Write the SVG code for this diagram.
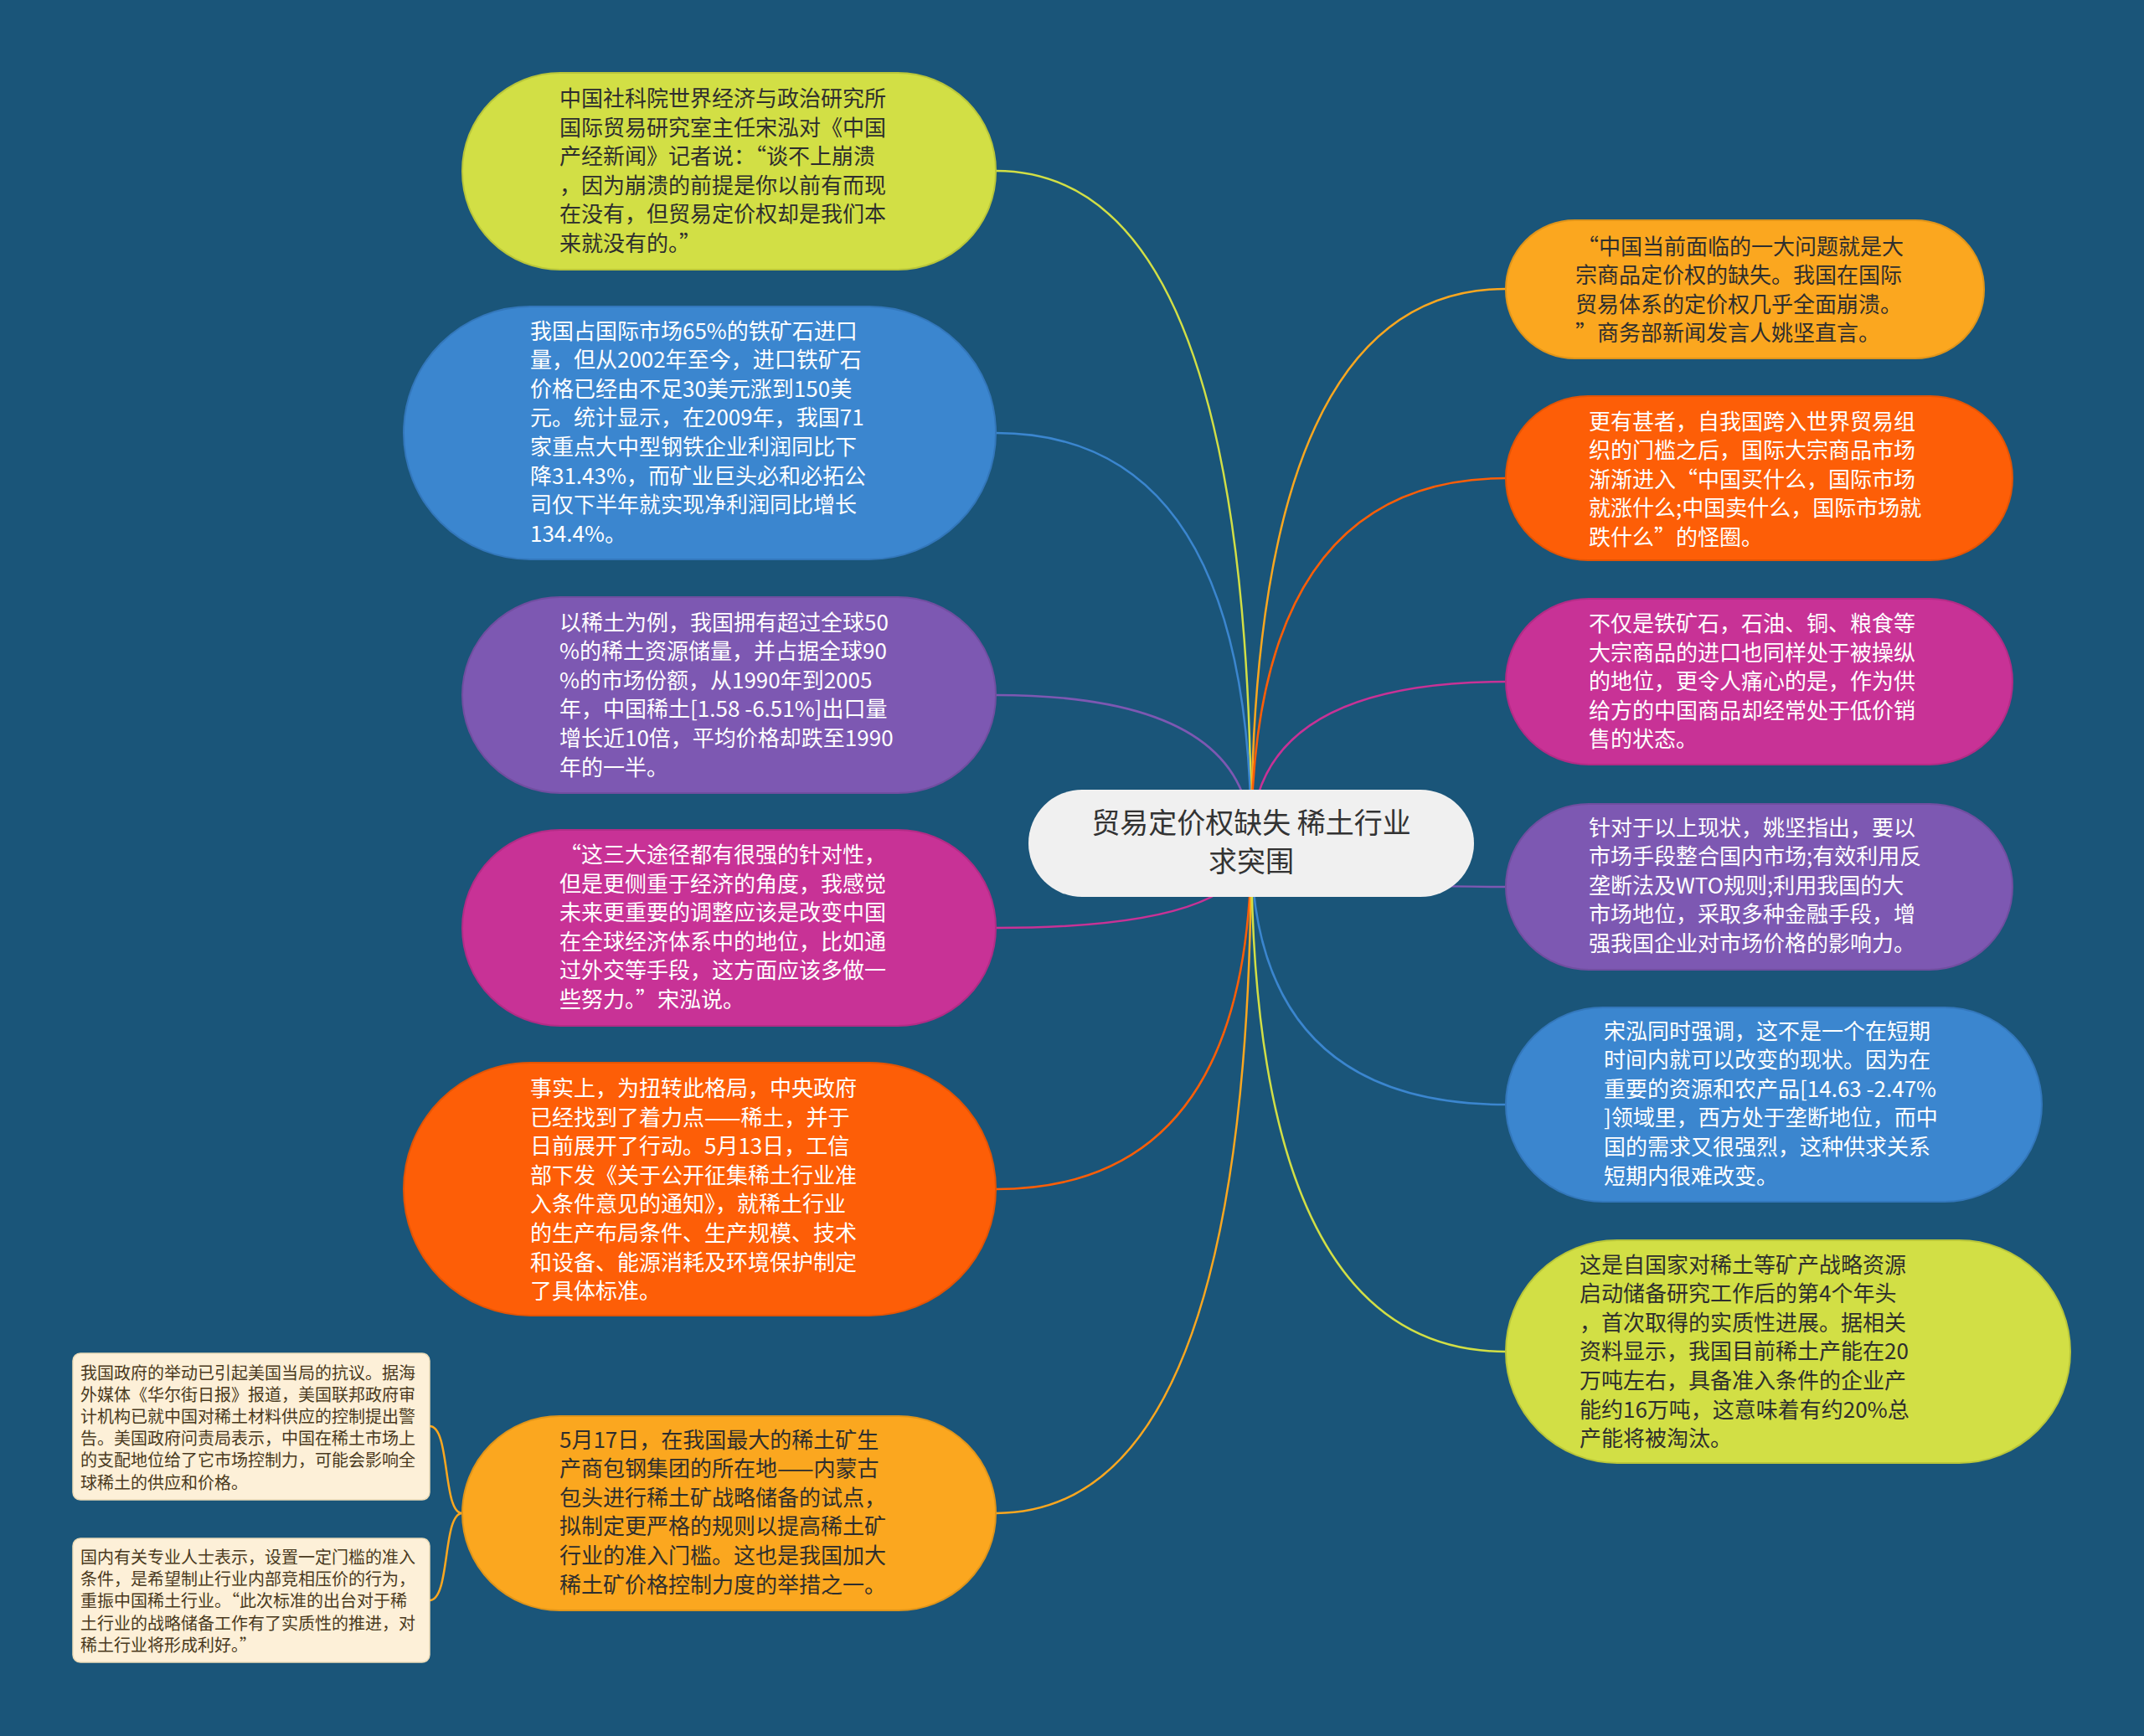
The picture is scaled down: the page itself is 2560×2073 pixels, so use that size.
<svg xmlns="http://www.w3.org/2000/svg" width="2560" height="2073" viewBox="0 0 2560 2073">
<style>
text{font-family:"Noto Sans CJK SC","Noto Sans",sans-serif;font-size:26px}
.dk{fill:#2e2e2e}.wt{fill:#ffffff}
.sub{font-size:20px;fill:#4a3a20}
.ctr{font-size:34px;fill:#333333}
.c{fill:none;stroke-width:2.5}
</style>
<rect width="2560" height="2073" fill="#1a5579"/>
<g id="connectors">
<path class="c" stroke="#d2df45" d="M1494 1007 Q1494 204 1189 204"/>
<path class="c" stroke="#3b86cf" d="M1494 1007 Q1494 517 1189 517"/>
<path class="c" stroke="#7d58b2" d="M1494 1007 Q1494 830 1189 830"/>
<path class="c" stroke="#c83296" d="M1494 1007 Q1494 1108 1189 1108"/>
<path class="c" stroke="#fd5e07" d="M1494 1007 Q1494 1420 1189 1420"/>
<path class="c" stroke="#fba71f" d="M1494 1007 Q1494 1807 1189 1807"/>
<path class="c" stroke="#fba71f" d="M1494 1007 Q1494 345 1798 345"/>
<path class="c" stroke="#fd5e07" d="M1494 1007 Q1494 571 1798 571"/>
<path class="c" stroke="#c83296" d="M1494 1007 Q1494 814 1798 814"/>
<path class="c" stroke="#7d58b2" d="M1494 1007 Q1494 1059 1798 1059"/>
<path class="c" stroke="#3b86cf" d="M1494 1007 Q1494 1319 1798 1319"/>
<path class="c" stroke="#d2df45" d="M1494 1007 Q1494 1614 1798 1614"/>
<path class="c" stroke="#fba71f" d="M552 1807 C528 1807 538 1703 513 1703"/>
<path class="c" stroke="#fba71f" d="M552 1807 C528 1807 538 1911 513 1911"/>
</g>
<g id="center">
<rect x="1228" y="943" width="532" height="128" rx="64" fill="#f0f0f0"/>
<text class="ctr" text-anchor="middle"><tspan x="1494" y="995">贸易定价权缺失 稀土行业</tspan><tspan x="1494" y="1041">求突围</tspan></text>
</g>
<g id="n1">
<rect x="552" y="87" width="637" height="235" rx="117" fill="#d2df45" stroke="#b9c63a" stroke-width="2"/>
<text class="dk"><tspan x="668" y="127">中国社科院世界经济与政治研究所</tspan><tspan x="668" dy="34.6">国际贸易研究室主任宋泓对《中国</tspan><tspan x="668" dy="34.6">产经新闻》记者说：“谈不上崩溃</tspan><tspan x="668" dy="34.6">，因为崩溃的前提是你以前有而现</tspan><tspan x="668" dy="34.6">在没有，但贸易定价权却是我们本</tspan><tspan x="668" dy="34.6">来就没有的。”</tspan></text>
</g>
<g id="n2">
<rect x="482" y="366" width="707" height="302" rx="151" fill="#3b86cf" stroke="#3377bb" stroke-width="2"/>
<text class="wt"><tspan x="633" y="404.5">我国占国际市场65%的铁矿石进口</tspan><tspan x="633" dy="34.6">量，但从2002年至今，进口铁矿石</tspan><tspan x="633" dy="34.6">价格已经由不足30美元涨到150美</tspan><tspan x="633" dy="34.6">元。统计显示，在2009年，我国71</tspan><tspan x="633" dy="34.6">家重点大中型钢铁企业利润同比下</tspan><tspan x="633" dy="34.6">降31.43%，而矿业巨头必和必拓公</tspan><tspan x="633" dy="34.6">司仅下半年就实现净利润同比增长</tspan><tspan x="633" dy="34.6">134.4%。</tspan></text>
</g>
<g id="n3">
<rect x="552" y="713" width="637" height="234" rx="117" fill="#7d58b2" stroke="#704ea0" stroke-width="2"/>
<text class="wt"><tspan x="668" y="752.5">以稀土为例，我国拥有超过全球50</tspan><tspan x="668" dy="34.6">%的稀土资源储量，并占据全球90</tspan><tspan x="668" dy="34.6">%的市场份额，从1990年到2005</tspan><tspan x="668" dy="34.6">年，中国稀土[1.58 -6.51%]出口量</tspan><tspan x="668" dy="34.6">增长近10倍，平均价格却跌至1990</tspan><tspan x="668" dy="34.6">年的一半。</tspan></text>
</g>
<g id="n4">
<rect x="552" y="991" width="637" height="234" rx="117" fill="#c83296" stroke="#b22c86" stroke-width="2"/>
<text class="wt"><tspan x="668" y="1030">“这三大途径都有很强的针对性，</tspan><tspan x="668" dy="34.6">但是更侧重于经济的角度，我感觉</tspan><tspan x="668" dy="34.6">未来更重要的调整应该是改变中国</tspan><tspan x="668" dy="34.6">在全球经济体系中的地位，比如通</tspan><tspan x="668" dy="34.6">过外交等手段，这方面应该多做一</tspan><tspan x="668" dy="34.6">些努力。”宋泓说。</tspan></text>
</g>
<g id="n5">
<rect x="482" y="1269" width="707" height="302" rx="151" fill="#fd5e07" stroke="#e35405" stroke-width="2"/>
<text class="wt"><tspan x="633" y="1309">事实上，为扭转此格局，中央政府</tspan><tspan x="633" dy="34.6">已经找到了着力点——稀土，并于</tspan><tspan x="633" dy="34.6">日前展开了行动。5月13日，工信</tspan><tspan x="633" dy="34.6">部下发《关于公开征集稀土行业准</tspan><tspan x="633" dy="34.6">入条件意见的通知》，就稀土行业</tspan><tspan x="633" dy="34.6">的生产布局条件、生产规模、技术</tspan><tspan x="633" dy="34.6">和设备、能源消耗及环境保护制定</tspan><tspan x="633" dy="34.6">了具体标准。</tspan></text>
</g>
<g id="n6">
<rect x="552" y="1691" width="637" height="232" rx="116" fill="#fba71f" stroke="#e0951a" stroke-width="2"/>
<text class="dk"><tspan x="668" y="1728.5">5月17日，在我国最大的稀土矿生</tspan><tspan x="668" dy="34.6">产商包钢集团的所在地——内蒙古</tspan><tspan x="668" dy="34.6">包头进行稀土矿战略储备的试点，</tspan><tspan x="668" dy="34.6">拟制定更严格的规则以提高稀土矿</tspan><tspan x="668" dy="34.6">行业的准入门槛。这也是我国加大</tspan><tspan x="668" dy="34.6">稀土矿价格控制力度的举措之一。</tspan></text>
</g>
<g id="s1">
<rect x="87" y="1616" width="426" height="175" rx="9" fill="#fdf0d8" stroke="#ecdcb8" stroke-width="1.5"/>
<text class="sub"><tspan x="96" y="1646.5">我国政府的举动已引起美国当局的抗议。据海</tspan><tspan x="96" dy="26.2">外媒体《华尔街日报》报道，美国联邦政府审</tspan><tspan x="96" dy="26.2">计机构已就中国对稀土材料供应的控制提出警</tspan><tspan x="96" dy="26.2">告。美国政府问责局表示，中国在稀土市场上</tspan><tspan x="96" dy="26.2">的支配地位给了它市场控制力，可能会影响全</tspan><tspan x="96" dy="26.2">球稀土的供应和价格。</tspan></text>
</g>
<g id="s2">
<rect x="87" y="1837" width="426" height="148" rx="9" fill="#fdf0d8" stroke="#ecdcb8" stroke-width="1.5"/>
<text class="sub"><tspan x="96" y="1867">国内有关专业人士表示，设置一定门槛的准入</tspan><tspan x="96" dy="26.2">条件，是希望制止行业内部竞相压价的行为，</tspan><tspan x="96" dy="26.2">重振中国稀土行业。“此次标准的出台对于稀</tspan><tspan x="96" dy="26.2">土行业的战略储备工作有了实质性的推进，对</tspan><tspan x="96" dy="26.2">稀土行业将形成利好。”</tspan></text>
</g>
<g id="r1">
<rect x="1798" y="263" width="571" height="165" rx="82" fill="#fba71f" stroke="#e0951a" stroke-width="2"/>
<text class="dk"><tspan x="1883" y="303.5">“中国当前面临的一大问题就是大</tspan><tspan x="1881" dy="34.6">宗商品定价权的缺失。我国在国际</tspan><tspan x="1881" dy="34.6">贸易体系的定价权几乎全面崩溃。</tspan><tspan x="1881" dy="34.6">”商务部新闻发言人姚坚直言。</tspan></text>
</g>
<g id="r2">
<rect x="1798" y="473" width="605" height="196" rx="98" fill="#fd5e07" stroke="#e35405" stroke-width="2"/>
<text class="wt"><tspan x="1897" y="512.5">更有甚者，自我国跨入世界贸易组</tspan><tspan x="1897" dy="34.6">织的门槛之后，国际大宗商品市场</tspan><tspan x="1897" dy="34.6">渐渐进入“中国买什么，国际市场</tspan><tspan x="1897" dy="34.6">就涨什么;中国卖什么，国际市场就</tspan><tspan x="1897" dy="34.6">跌什么”的怪圈。</tspan></text>
</g>
<g id="r3">
<rect x="1798" y="715" width="605" height="198" rx="99" fill="#c83296" stroke="#b22c86" stroke-width="2"/>
<text class="wt"><tspan x="1897" y="754">不仅是铁矿石，石油、铜、粮食等</tspan><tspan x="1897" dy="34.6">大宗商品的进口也同样处于被操纵</tspan><tspan x="1897" dy="34.6">的地位，更令人痛心的是，作为供</tspan><tspan x="1897" dy="34.6">给方的中国商品却经常处于低价销</tspan><tspan x="1897" dy="34.6">售的状态。</tspan></text>
</g>
<g id="r4">
<rect x="1798" y="960" width="605" height="198" rx="99" fill="#7d58b2" stroke="#704ea0" stroke-width="2"/>
<text class="wt"><tspan x="1897" y="997.5">针对于以上现状，姚坚指出，要以</tspan><tspan x="1897" dy="34.6">市场手段整合国内市场;有效利用反</tspan><tspan x="1897" dy="34.6">垄断法及WTO规则;利用我国的大</tspan><tspan x="1897" dy="34.6">市场地位，采取多种金融手段，增</tspan><tspan x="1897" dy="34.6">强我国企业对市场价格的影响力。</tspan></text>
</g>
<g id="r5">
<rect x="1798" y="1203" width="640" height="232" rx="116" fill="#3b86cf" stroke="#3377bb" stroke-width="2"/>
<text class="wt"><tspan x="1915" y="1240.5">宋泓同时强调，这不是一个在短期</tspan><tspan x="1915" dy="34.6">时间内就可以改变的现状。因为在</tspan><tspan x="1915" dy="34.6">重要的资源和农产品[14.63 -2.47%</tspan><tspan x="1915" dy="34.6">]领域里，西方处于垄断地位，而中</tspan><tspan x="1915" dy="34.6">国的需求又很强烈，这种供求关系</tspan><tspan x="1915" dy="34.6">短期内很难改变。</tspan></text>
</g>
<g id="r6">
<rect x="1798" y="1481" width="674" height="266" rx="133" fill="#d2df45" stroke="#b9c63a" stroke-width="2"/>
<text class="dk"><tspan x="1886" y="1519.5">这是自国家对稀土等矿产战略资源</tspan><tspan x="1886" dy="34.6">启动储备研究工作后的第4个年头</tspan><tspan x="1886" dy="34.6">，首次取得的实质性进展。据相关</tspan><tspan x="1886" dy="34.6">资料显示，我国目前稀土产能在20</tspan><tspan x="1886" dy="34.6">万吨左右，具备准入条件的企业产</tspan><tspan x="1886" dy="34.6">能约16万吨，这意味着有约20%总</tspan><tspan x="1886" dy="34.6">产能将被淘汰。</tspan></text>
</g>
</svg>
